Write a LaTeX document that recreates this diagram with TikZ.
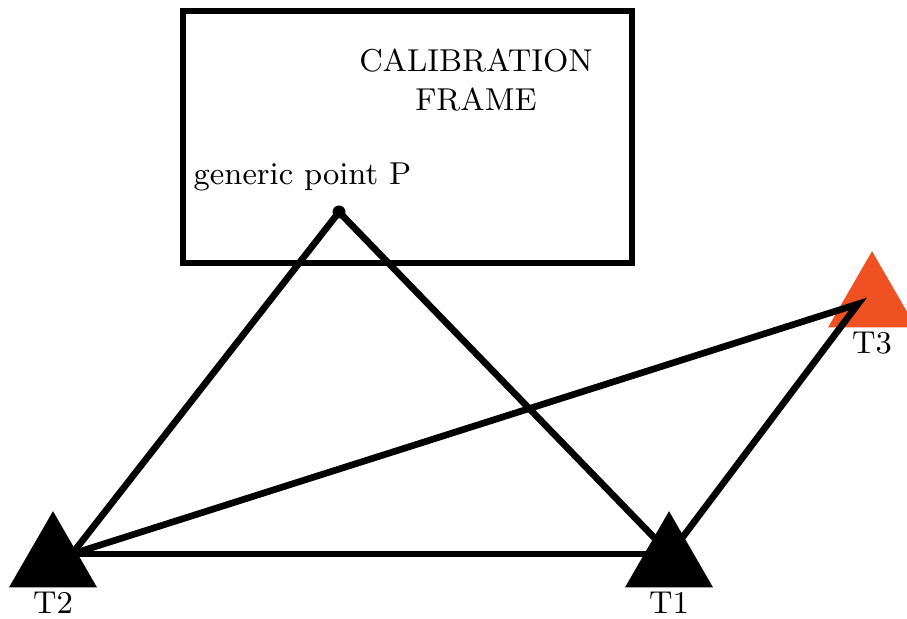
\documentclass[tikz,border=0pt]{standalone}
\usetikzlibrary{shapes.geometric,positioning,calc}
\definecolor{Ink}{HTML}{000000}
\definecolor{Flame}{HTML}{F05122}
\tikzset{
  link/.style={draw=Ink,line width=1.9pt},
  tri/.style={regular polygon,regular polygon sides=3,minimum size=1.016cm,inner sep=0pt,outer sep=0pt,fill=Ink},
  lbl/.style={font=\fontsize{9}{11}\selectfont,text=Ink,inner sep=1pt},
  frm/.style={rectangle,draw=Ink,line width=1.75pt,minimum width=4.49cm,minimum height=2.52cm,inner sep=0pt},
  pt/.style={circle,fill=Ink,minimum size=0.13cm,inner sep=0pt},
}
\begin{document}
\begin{tikzpicture}[x=0.01cm,y=-0.01cm]
\useasboundingbox (0,0) rectangle (907,619);
% -frame-
\node[frm] (frame) at (407.5,137) {};
\node[lbl,align=center] (title) at (476,80) {CALIBRATION\\FRAME};
\node[lbl,anchor=base west,inner sep=0pt] (plbl) at (193,185) {generic point P};
\node[pt] (P) at (339,212) {};
% -stations-
\node[tri] (T2) at (53,562) {};
\node[tri] (T1) at (669,562) {};
\node[tri,fill=Flame] (T3) at (872,302) {};
\node[lbl,below=0pt of T2] (T2l) {T2};
\node[lbl,below=0pt of T1] (T1l) {T1};
\node[lbl,below=0pt of T3] (T3l) {T3};
\coordinate (h2) at ($(T2.center)+(19,-8)$);
\coordinate (h1) at ($(T1.center)+(1,-8)$);
\coordinate (h3) at ($(T3.center)+(-14,2)$);
% -sight lines-
\draw[link,line join=miter] (h2) -- (h3) -- (h1);
\draw[link,line join=round] (h2) -- (P.center) -- (h1);
\draw[link] (h2) -- (h1);
\end{tikzpicture}
\end{document}
